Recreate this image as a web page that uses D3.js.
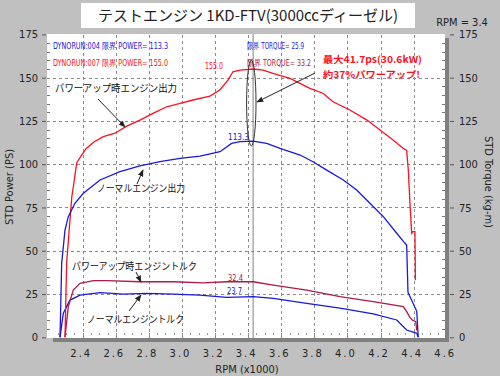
<!DOCTYPE html>
<html>
<head>
<meta charset="utf-8">
<script src="https://cdn.jsdelivr.net/npm/d3@7"></script>
<style>
  body { margin: 0; background: #c0c0c0; }
  svg { display: block; }
  .tk { font-family: "Liberation Sans Narrow", "DejaVu Sans Condensed", sans-serif; font-size: 11px; }
  .jp { font-family: "Noto Sans CJK JP", sans-serif; }
</style>
</head>
<body>
<div id="chart"></div>
<script>
// ---- data ----
var xTicks = [2.4, 2.6, 2.8, 3.0, 3.2, 3.4, 3.6, 3.8, 4.0, 4.2, 4.4, 4.6];
var yTicks = [0, 25, 50, 75, 100, 125, 150, 175];

// power-up engine output (PS)
var upPowerRpm = [2.293, 2.303, 2.334, 2.345, 2.355, 2.365, 2.394, 2.42, 2.47, 2.525, 2.595, 2.666, 2.746, 2.825, 2.908, 2.988, 3.068, 3.169, 3.229, 3.278, 3.308, 3.351, 3.43, 3.49, 3.55, 3.653, 3.773, 3.852, 3.913, 4.015, 4.118, 4.197, 4.276, 4.336, 4.358, 4.368, 4.378, 4.388, 4.395, 4.408, 4.411];
var upPowerPS  = [0, 43, 81, 88, 95, 101, 105.3, 109, 113, 115.9, 117.9, 122, 125.5, 129.4, 133.2, 135.2, 137.1, 139.4, 142.9, 148.6, 153.4, 154.4, 155, 154.4, 152.5, 149.6, 143.8, 141, 136.1, 131.3, 125.5, 119.8, 114, 109.2, 108, 96.6, 77.5, 60.2, 61, 61, 33];

// normal engine output (PS)
var normPowerRpm = [2.263, 2.273, 2.293, 2.313, 2.353, 2.404, 2.505, 2.625, 2.746, 2.867, 2.988, 3.109, 3.23, 3.30, 3.351, 3.43, 3.512, 3.593, 3.714, 3.792, 3.875, 3.975, 4.056, 4.136, 4.217, 4.298, 4.348, 4.358, 4.366, 4.419, 4.428];
var normPowerPS  = [0, 42.7, 62, 69.7, 77.4, 83.2, 90.9, 95.7, 99, 101.5, 103.4, 104.7, 107.2, 112, 113, 113.3, 112, 109.2, 105.3, 101.4, 96.6, 90.9, 85.1, 77.4, 69.7, 60.1, 54.3, 53.3, 26, 15, 0];

// power-up engine torque (kg-m)
var upTorqueRpm = [2.293, 2.313, 2.343, 2.384, 2.464, 2.545, 2.746, 2.948, 3.129, 3.27, 3.431, 3.552, 3.754, 3.955, 4.156, 4.338, 4.358, 4.378, 4.392, 4.413, 4.419];
var upTorqueKgm = [0, 17.7, 27.3, 31.2, 32.7, 32.7, 32.1, 32.1, 31.5, 32.1, 32.1, 30.2, 27.3, 23.5, 20.6, 17.7, 14.8, 11.5, 10, 9, 4];

// normal engine torque (kg-m)
var normTorqueRpm = [2.263, 2.283, 2.323, 2.384, 2.505, 2.645, 2.787, 2.948, 3.109, 3.27, 3.431, 3.552, 3.754, 3.955, 4.156, 4.298, 4.358, 4.419, 4.428];
var normTorqueKgm = [0, 13.9, 21.5, 24.4, 25.8, 25, 25.4, 25, 24.4, 23.1, 23.5, 22.5, 19.6, 16.8, 13.5, 10, 4.2, 2.3, 0];

var cursorRpm = 3.43;

var width = 500, height = 376;
var red = "#ff1020", blue = "#1818e0", crimson = "#b01848";

var svg = d3.select("#chart").append("svg")
  .attr("width", width).attr("height", height);

svg.append("rect").attr("width", width).attr("height", height).attr("fill", "#c0c0c0");

// title box
svg.append("rect").attr("x", 81).attr("y", 3).attr("width", 334).attr("height", 25).attr("fill", "#fff");
svg.append("text").attr("class", "jp")
  .attr("x", 248).attr("y", 21).attr("text-anchor", "middle")
  .attr("font-size", 15).attr("fill", "#222")
  .attr("textLength", 300).attr("lengthAdjust", "spacingAndGlyphs")
  .text("テストエンジン 1KD-FTV(3000ccディーゼル)");

var x = d3.scaleLinear().domain([2.2, 4.6]).range([49.6, 446.7]);
var y = d3.scaleLinear().domain([0, 175]).range([337.3, 34.4]);

// plot area
svg.append("rect").attr("x", 47).attr("y", 34).attr("width", 398).attr("height", 304).attr("fill", "#fff");
svg.append("rect").attr("x", 53).attr("y", 338).attr("width", 396).attr("height", 4).attr("fill", "#808080");
svg.append("rect").attr("x", 445).attr("y", 38).attr("width", 4).attr("height", 304).attr("fill", "#808080");

// grid
var grid = svg.append("g").attr("stroke", "#8a8a8a").attr("stroke-dasharray", "3,3");
grid.selectAll(".vg").data(xTicks.slice(0, -1)).enter().append("line")
  .attr("x1", function(d) { return Math.round(x(d)) + 0.5; })
  .attr("x2", function(d) { return Math.round(x(d)) + 0.5; })
  .attr("y1", 35).attr("y2", 338);
grid.selectAll(".hg").data(yTicks.slice(1, -1)).enter().append("line")
  .attr("y1", function(d) { return Math.round(y(d)) + 0.5; })
  .attr("y2", function(d) { return Math.round(y(d)) + 0.5; })
  .attr("x1", 47).attr("x2", 445);

// minor ticks
var minorY = d3.range(5, 175, 5).filter(function(d) { return d % 25 !== 0; });
svg.append("g").attr("stroke", "#777").selectAll("line").data(minorY).enter().append("line")
  .attr("x1", 47).attr("x2", 50)
  .attr("y1", function(d) { return Math.round(y(d)) + 0.5; })
  .attr("y2", function(d) { return Math.round(y(d)) + 0.5; });
svg.append("g").attr("stroke", "#777").selectAll("line").data(minorY).enter().append("line")
  .attr("x1", 442).attr("x2", 445)
  .attr("y1", function(d) { return Math.round(y(d)) + 0.5; })
  .attr("y2", function(d) { return Math.round(y(d)) + 0.5; });
var minorX = d3.range(2.25, 4.56, 0.05);
svg.append("g").attr("stroke", "#999").selectAll("line").data(minorX).enter().append("line")
  .attr("y1", 333).attr("y2", 335)
  .attr("x1", function(d) { return Math.round(x(d)) + 0.5; })
  .attr("x2", function(d) { return Math.round(x(d)) + 0.5; });

// cursor
svg.append("line").attr("x1", x(cursorRpm)).attr("x2", x(cursorRpm))
  .attr("y1", 34).attr("y2", 338).attr("stroke", "#808080");

// curves
var line = d3.line().x(function(d) { return x(d[0]); }).y(function(d) { return y(d[1]); });
function draw(rpm, vals, col) {
  svg.append("path").datum(d3.zip(rpm, vals))
    .attr("d", line).attr("fill", "none").attr("stroke", col).attr("stroke-width", 1.3);
}
draw(normTorqueRpm, normTorqueKgm, blue);
draw(upTorqueRpm, upTorqueKgm, crimson);
draw(upPowerRpm, upPowerPS, red);
draw(normPowerRpm, normPowerPS, blue);

// axes
var axL = svg.append("g").attr("transform", "translate(46,0)")
  .call(d3.axisLeft(y).tickValues(yTicks).tickSize(4).tickPadding(4));
var axR = svg.append("g").attr("transform", "translate(450,0)")
  .call(d3.axisRight(y).tickValues(yTicks).tickSize(4).tickPadding(5));
var axB = svg.append("g").attr("transform", "translate(-2,342)")
  .call(d3.axisBottom(x).tickValues(xTicks).tickSize(0).tickPadding(7)
    .tickFormat(function(d) { return d.toFixed(1); }));
[axL, axR, axB].forEach(function(a) {
  a.select(".domain").remove();
  a.selectAll("line").attr("stroke", "#555");
  a.selectAll("text").attr("class", "tk").attr("font-family", null).attr("font-size", null)
    .style("fill", "#222");
});
axB.selectAll("text").attr("letter-spacing", 2);

function tk(txt, tr) {
  return svg.append("text").attr("class", "tk").attr("transform", tr)
    .attr("text-anchor", "middle").style("fill", "#222").text(txt);
}
tk("RPM (x1000)", "translate(247,373)");
tk("STD Power (PS)", "translate(13,187) rotate(-90)");
tk("STD Torque (kg-m)", "translate(485,182) rotate(90)");
tk("RPM = 3.4", "translate(462,26)");

// header readouts
function small(txt, x0, y0, col, len) {
  svg.append("text").attr("class", "tk").attr("x", x0).attr("y", y0)
    .style("font-size", "9px").style("fill", col)
    .attr("textLength", len).attr("lengthAdjust", "spacingAndGlyphs").text(txt);
}
small("DYNORUN:004  限界  POWER= 113.3", 53, 49, blue, 115);
small("DYNORUN:007  限界  POWER= 155.0", 53, 66, red, 115);
small("限界 TORQUE= 25.9", 247, 49, blue, 57);
small("限界 TORQUE= 33.2", 247, 66, crimson, 64);

// peak labels
small("155.0", 205, 69, red, 18);
small("113.3", 228, 140, blue, 21);
small("32.4", 228, 281, crimson, 15);
small("23.7", 227, 294, blue, 15);

// annotations
svg.append("defs").append("marker").attr("id", "ah")
  .attr("viewBox", "0 0 10 10").attr("refX", 9).attr("refY", 5)
  .attr("markerWidth", 7).attr("markerHeight", 7).attr("orient", "auto")
  .append("path").attr("d", "M0,1L10,5L0,9z").attr("fill", "#222");

function arrow(x1, y1, x2, y2) {
  svg.append("line").attr("x1", x1).attr("y1", y1).attr("x2", x2).attr("y2", y2)
    .attr("stroke", "#222").attr("marker-end", "url(#ah)");
}
function label(txt, x0, y0, len) {
  svg.append("text").attr("class", "jp").attr("x", x0).attr("y", y0)
    .attr("font-size", 10).attr("fill", "#111")
    .attr("textLength", len).attr("lengthAdjust", "spacingAndGlyphs").text(txt);
}
label("パワーアップ時エンジン出力", 55, 92, 122);
arrow(98, 99, 125, 127);
label("ノーマルエンジン出力", 97, 192, 88);
arrow(137, 184, 143, 170);
label("パワーアップ時エンジントルク", 72, 270, 125);
arrow(136, 272, 141, 282);
label("ノーマルエンジントルク", 87, 323, 97);
arrow(129, 311, 141, 295);

svg.append("ellipse").attr("cx", 251.3).attr("cy", 103).attr("rx", 4.7).attr("ry", 43)
  .attr("fill", "none").attr("stroke", "#333");
arrow(315, 73, 257, 102);

svg.append("text").attr("class", "jp").attr("x", 323).attr("y", 63)
  .attr("font-size", 9.5).attr("font-weight", "bold").attr("fill", red)
  .attr("textLength", 99).attr("lengthAdjust", "spacingAndGlyphs").text("最大41.7ps(30.6kW)");
svg.append("text").attr("class", "jp").attr("x", 323).attr("y", 78)
  .attr("font-size", 9.5).attr("font-weight", "bold").attr("fill", red)
  .attr("textLength", 97).attr("lengthAdjust", "spacingAndGlyphs").text("約37%パワーアップ!");
</script>
</body>
</html>
